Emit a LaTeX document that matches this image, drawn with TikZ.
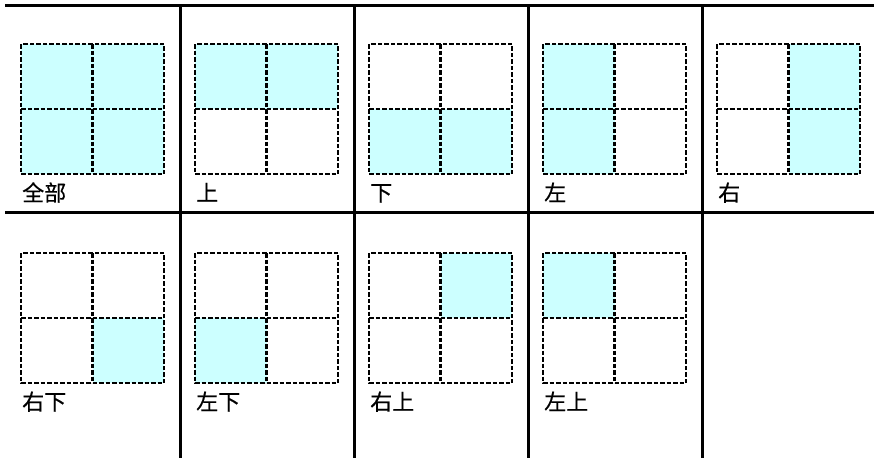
\documentclass[tikz,border=0pt]{standalone}
\usepackage{fontspec}
\newfontfamily\cjkfont[FakeBold=0.5]{Noto Sans CJK SC}
\usetikzlibrary{positioning}
\definecolor{pale}{HTML}{CCFFFF}

\begin{document}
\begin{tikzpicture}[
    x=1pt, y=-1pt,
    rule/.style={line width=3pt},
    cellgrid/.style={line width=2.2pt, dash pattern=on 4.5pt off 2pt},
    quad/.style={fill=pale},
    caption/.style={font=\cjkfont\fontsize{22}{22}\selectfont, inner sep=0pt, anchor=base west}
]
\useasboundingbox (0,0) rectangle (874,458);

% table rules
\draw[rule] (5,5) -- (874,5);
\draw[rule] (5,212) -- (874,212);
\foreach \x in {180,354,528,702}
    \draw[rule] (\x,5) -- (\x,458);

% one 2x2 grid per cell: column/row/name/label/filled quarters
\foreach \col/\row/\name/\txt/\fills in {
    0/0/all/全部/{0/0,1/0,0/1,1/1},
    1/0/up/上/{0/0,1/0},
    2/0/down/下/{0/1,1/1},
    3/0/left/左/{0/0,0/1},
    4/0/right/右/{1/0,1/1},
    0/1/lowright/右下/{1/1},
    1/1/lowleft/左下/{0/1},
    2/1/upright/右上/{1/0},
    3/1/upleft/左上/{0/0}}
{
    \pgfmathsetmacro\gx{21+174*\col}
    \pgfmathsetmacro\gy{44+209*\row}
    \foreach \i/\j in \fills
        \fill[quad] (\gx+71.5*\i,\gy+65*\j) rectangle ++(71.5,65);
    \draw[cellgrid] (\gx,\gy) rectangle ++(143,130);
    \draw[cellgrid] (\gx+71.5,\gy) -- ++(0,130);
    \draw[cellgrid] (\gx,\gy+65) -- ++(143,0);
    \node[caption] (lbl-\name) at (\gx+1,\gy+157) {\txt};
}
\end{tikzpicture}
\end{document}
